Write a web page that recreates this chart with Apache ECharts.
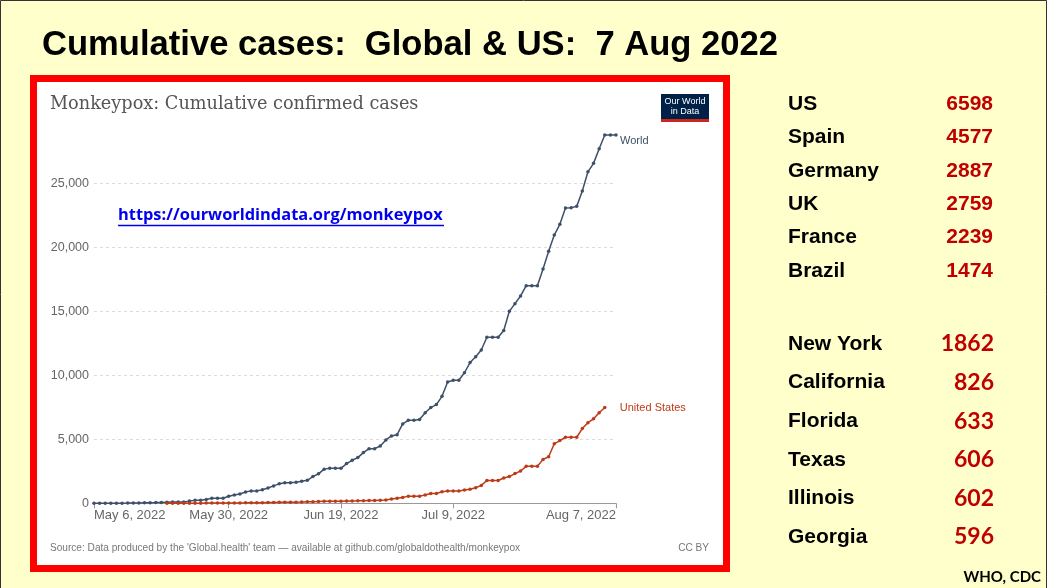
<!DOCTYPE html>
<html>
<head>
<meta charset="utf-8">
<script src="https://cdn.jsdelivr.net/npm/echarts@6/dist/echarts.min.js"></script>
<style>
  html, body { margin: 0; padding: 0; background: #ffffcc; }
  #main { width: 1047px; height: 588px; }
</style>
</head>
<body>
<div id="main"></div>
<script>
// tick labels shown on the x axis
const tickLabels = ['May 6, 2022', 'May 30, 2022', 'Jun 19, 2022', 'Jul 9, 2022', 'Aug 7, 2022']

// cumulative confirmed cases, one value per day from May 6 to Aug 7 2022
const worldCases = [
  1, 1, 2, 3, 5, 9, 14, 20, 28, 36,
  45, 55, 70, 85, 100, 100, 105, 170, 230, 230,
  300, 390, 390, 390, 550, 650, 730, 880, 970, 970,
  1060, 1200, 1360, 1520, 1600, 1600, 1650, 1730, 1800, 2090,
  2300, 2670, 2730, 2730, 2730, 3100, 3360, 3570, 3960, 4270,
  4270, 4480, 4950, 5260, 5360, 6200, 6480, 6480, 6540, 7080,
  7480, 7710, 8360, 9480, 9610, 9610, 10200, 11000, 11450, 11980,
  12970, 12970, 12970, 13500, 15000, 15600, 16200, 17000, 17000, 17000,
  18300, 19700, 20960, 21800, 23070, 23100, 23200, 24400, 25900, 26560,
  27700, 28770, 28770, 28770
]
const usCases = [
  null, null, null, null, null, null, null, null, null, null, null, null, null,
  1, 3, 4, 5, 6, 9, 11, 14, 18, 20, 20, 20, 26, 31, 35, 45, 45, 49, 65, 72,
  84, 89, 89, 89, 100, 113, 127, 142, 155, 155,
  155, 160, 172, 180, 190, 201, 210, 210, 244, 260,
  330, 390, 460, 560, 560, 560, 650, 760, 760, 900,
  970, 970, 970, 1040, 1100, 1220, 1400, 1780, 1780, 1780,
  1980, 2090, 2320, 2520, 2890, 2890, 2890, 3430, 3640, 4650,
  4900, 5160, 5160, 5160, 5840, 6300, 6600, 7080, 7480,
  null, null
]

// side table
const countryNames = ['US', 'Spain', 'Germany', 'UK', 'France', 'Brazil']
const countryValues = ['6598', '4577', '2887', '2759', '2239', '1474']
const stateNames = ['New York', 'California', 'Florida', 'Texas', 'Illinois', 'Georgia']
const stateValues = ['1862', '826', '633', '606', '602', '596']

// day labels for the category axis
const months = ['Jan', 'Feb', 'Mar', 'Apr', 'May', 'Jun', 'Jul', 'Aug', 'Sep', 'Oct', 'Nov', 'Dec']
const days = []
for (let i = 0; i < worldCases.length; i++) {
  const d = new Date(Date.UTC(2022, 4, 6 + i))
  days.push(months[d.getUTCMonth()] + ' ' + d.getUTCDate() + ', ' + d.getUTCFullYear())
}

const chart = echarts.init(document.getElementById('main'), null, { renderer: 'canvas' })

const graphics = [
  // slide frame
  { type: 'rect', z: -10, shape: { x: 0.5, y: 0.5, width: 1046, height: 600 }, style: { fill: '#ffffcc', stroke: '#333', lineWidth: 1 } },
  // white chart panel with red border
  { type: 'rect', z: -5, shape: { x: 33.5, y: 78.5, width: 693, height: 490 }, style: { fill: '#ffffff', stroke: '#ff0000', lineWidth: 7 } },
  { type: 'text', x: 42, y: 45, style: { text: 'Cumulative cases:  Global & US:  7 Aug 2022', font: 'bold 34.6px "Liberation Sans", Arial', fill: '#000', verticalAlign: 'middle' } },
  { type: 'text', x: 50, y: 104, style: { text: 'Monkeypox: Cumulative confirmed cases', font: '17.7px "DejaVu Serif", serif', fill: '#555', verticalAlign: 'middle' } },
  // OWID logo
  { type: 'rect', shape: { x: 661, y: 94, width: 48, height: 25 }, style: { fill: '#002147' } },
  { type: 'rect', shape: { x: 661, y: 119, width: 48, height: 3 }, style: { fill: '#ce261e' } },
  { type: 'text', x: 685, y: 107, style: { text: 'Our World\nin Data', font: '9px "Liberation Sans", Arial', lineHeight: 10, fill: '#fff', align: 'center', verticalAlign: 'middle' } },
  // link
  { type: 'text', x: 118, y: 215, style: { text: 'https://ourworldindata.org/monkeypox', font: 'bold 16.4px "Open Sans", sans-serif', fill: '#0000ee', verticalAlign: 'middle' } },
  { type: 'line', shape: { x1: 118, y1: 225.5, x2: 444, y2: 225.5 }, style: { stroke: '#0000ee', lineWidth: 1.3 } },
  // footer
  { type: 'text', x: 50, y: 548, style: { text: "Source: Data produced by the 'Global.health' team \u2014 available at github.com/globaldothealth/monkeypox", font: '10.1px "Liberation Sans", Arial', fill: '#777', verticalAlign: 'middle' } },
  { type: 'text', x: 709, y: 548, style: { text: 'CC BY', font: '10.1px "Liberation Sans", Arial', fill: '#777', align: 'right', verticalAlign: 'middle' } },
  { type: 'text', x: 1041, y: 577, style: { text: 'WHO, CDC', font: 'bold 15px Lato, sans-serif', fill: '#000', align: 'right', verticalAlign: 'middle' } }
]

countryNames.forEach((name, i) => {
  const y = 104 + i * 33.4
  graphics.push({ type: 'text', x: 788, y: y, style: { text: name, font: 'bold 21px "Liberation Sans", Arial', fill: '#000', verticalAlign: 'middle' } })
  graphics.push({ type: 'text', x: 993, y: y, style: { text: countryValues[i], font: 'bold 21px "Liberation Sans", Arial', fill: '#c00000', align: 'right', verticalAlign: 'middle' } })
})
stateNames.forEach((name, i) => {
  const y = 344 + i * 38.6
  graphics.push({ type: 'text', x: 788, y: y, style: { text: name, font: 'bold 21px "Liberation Sans", Arial', fill: '#000', verticalAlign: 'middle' } })
  graphics.push({ type: 'text', x: 994, y: y, style: { text: stateValues[i], font: 'bold 23px Lato, sans-serif', fill: '#c00000', align: 'right', verticalAlign: 'middle' } })
})

chart.setOption({
  animation: false,
  backgroundColor: '#ffffcc',
  graphic: graphics,
  grid: {
    left: 94,
    right: 431,
    top: 134.7,
    bottom: 84.7
  },
  xAxis: {
    type: 'category',
    data: days,
    boundaryGap: false,
    axisLine: { lineStyle: { color: '#999' } },
    axisTick: {
      length: 5,
      lineStyle: { color: '#999' },
      interval: (idx, val) => tickLabels.indexOf(val) >= 0
    },
    axisLabel: {
      interval: (idx, val) => tickLabels.indexOf(val) >= 0,
      color: '#666',
      fontSize: 13,
      fontFamily: 'Liberation Sans',
      margin: 6,
      alignMinLabel: 'left',
      alignMaxLabel: 'right'
    }
  },
  yAxis: {
    type: 'value',
    min: 0,
    max: 28800,
    interval: 5000,
    axisLine: { show: false },
    axisTick: { show: false },
    axisLabel: {
      showMaxLabel: false,
      color: '#666',
      fontSize: 12.5,
      fontFamily: 'Liberation Sans',
      margin: 5,
      formatter: v => v.toLocaleString('en-US')
    },
    splitLine: {
      showMaxLine: false,
      lineStyle: { color: '#ddd', type: [3, 3] }
    }
  },
  series: [
    {
      name: 'World',
      type: 'line',
      data: worldCases,
      showAllSymbol: true,
      symbol: 'circle',
      symbolSize: 3.5,
      color: '#3e5069',
      lineStyle: { width: 1.5, color: '#3e5069' },
      endLabel: {
        show: true,
        formatter: '{a}',
        color: '#3e5069',
        fontSize: 11,
        fontFamily: 'Liberation Sans',
        distance: 4,
        offset: [0, 6]
      }
    },
    {
      name: 'United States',
      type: 'line',
      data: usCases,
      showAllSymbol: true,
      symbol: 'circle',
      symbolSize: 3.5,
      color: '#be3a17',
      lineStyle: { width: 1.5, color: '#be3a17' },
      endLabel: {
        show: true,
        formatter: '{a}',
        color: '#be3a17',
        fontSize: 11,
        fontFamily: 'Liberation Sans',
        distance: 15
      }
    }
  ]
})
</script>
</body>
</html>
